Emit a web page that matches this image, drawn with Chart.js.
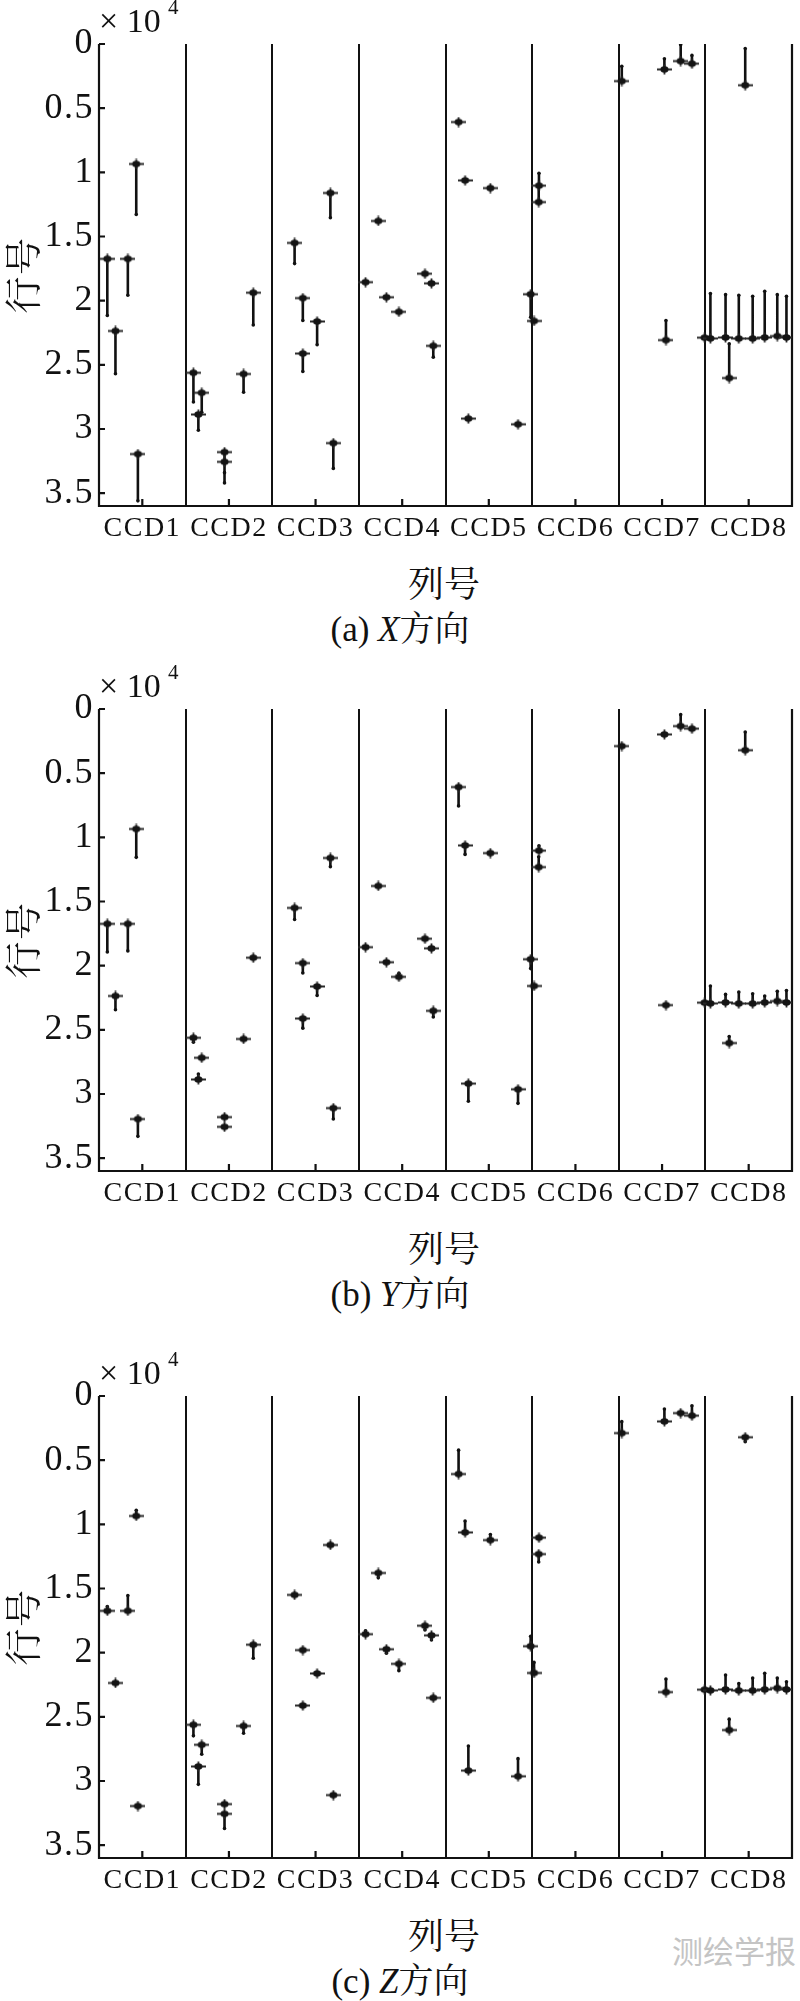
<!DOCTYPE html>
<html>
<head>
<meta charset="utf-8">
<script src="https://cdn.jsdelivr.net/npm/chart.js@4.4.1/dist/chart.umd.min.js"></script>
<style>
  html, body { margin:0; padding:0; background:#fff; }
  #page { position:relative; width:800px; height:2001px; background:#fff; overflow:hidden; }
  canvas { position:absolute; left:0; }
  .t { position:absolute; white-space:nowrap; color:#111; line-height:1; transform:translate(-50%,-50%); }
  .ser { font-family:"Liberation Serif","Times New Roman",serif; }
  .cjk { font-family:"Noto Serif CJK SC","Noto Sans CJK SC",sans-serif; }
  .exp { position:absolute; white-space:nowrap; color:#111; font-family:"Liberation Serif","Times New Roman",serif; line-height:1; }
</style>
</head>
<body>
<div id="page">
  <canvas id="c0" width="800" height="546" style="top:0px"></canvas>
  <canvas id="c1" width="800" height="546" style="top:665px"></canvas>
  <canvas id="c2" width="800" height="546" style="top:1352px"></canvas>
</div>
<script>
// ---------- data ----------
const ccdLabels = ['CCD1','CCD2','CCD3','CCD4','CCD5','CCD6','CCD7','CCD8'];
const ccdCenters = [0.5,1.5,2.5,3.5,4.5,5.5,6.5,7.5];
const ccdBounds = [1,2,3,4,5,6,7];
const rowTicks = [0,0.5,1,1.5,2,2.5,3,3.5];
const rowTickLabels = ['0','0.5','1','1.5','2','2.5','3','3.5'];

// check points: column position (in CCD units) and row number (x10^4)
const ptCol = [0.096,0.19,0.333,0.43,0.449, 1.09,1.186,1.147,1.449,1.449,1.669,1.781,
  2.258,2.353,2.518,2.353,2.671,2.705, 3.077,3.224,3.318,3.462,3.763,3.838,3.859,
  4.151,4.226,4.518,4.264,4.837,4.983,5.022, 5.079,5.076,
  6.035,6.527,6.715,6.845,6.545,
  7.46,6.991,7.058,7.233,7.386,7.546,7.685,7.83,7.936,7.275];
const ptRow = [1.674,2.236,1.674,0.935,3.195, 2.562,2.718,2.887,3.18,3.256,2.571,1.938,
  1.55,1.98,2.162,2.412,1.161,3.11, 1.856,1.379,1.973,2.087,1.79,1.865,2.352,
  0.608,1.063,1.123,2.919,2.963,1.95,2.158, 1.104,1.232,
  0.289,0.198,0.133,0.153,2.307,
  0.321,2.288,2.294,2.287,2.295,2.295,2.287,2.276,2.287,2.603];
// end of the error vector (row units) in each direction; null = no visible vector
const endX = [2.115,2.57,1.958,1.328,3.56, 2.79,2.87,3.01,3.34,3.42,2.713,2.19,
  1.711,2.154,2.344,2.552,1.354,3.307, null,null,null,null,null,null,2.44,
  null,null,null,null,null,2.13,null, 1.008,1.11,
  0.174,0.115,0.005,0.089,2.154,
  0.036,null,1.945,1.953,1.958,1.966,1.927,1.953,1.966,2.336];
const endY = [1.893,2.344,1.885,1.156,3.33, 2.596,null,2.844,null,null,null,null,
  1.64,2.057,2.232,2.487,1.229,3.195, null,null,null,2.06,null,null,2.4,
  0.755,1.133,null,3.057,3.073,2.023,null, 1.065,1.151,
  null,null,0.044,null,null,
  0.18,null,2.159,2.224,2.206,2.219,2.237,2.2,2.193,2.552];
const endZ = [1.64,null,1.555,0.89,null, 2.648,2.792,3.026,null,3.37,2.628,2.044,
  null,null,null,null,null,null, 1.83,1.417,2.005,2.14,1.823,1.901,null,
  0.422,0.974,1.08,2.727,2.826,1.872,2.076, null,1.294,
  0.2,0.102,null,0.076,2.206,
  0.357,null,null,2.174,2.24,2.198,2.161,2.198,2.227,2.518];

const panelEnds = [endX, endY, endZ];
const panelCaps = [['(a) ','X','方向'],['(b) ','Y','方向'],['(c) ','Z','方向']];
const panelTop = [0, 665, 1352];

// ---------- rendering ----------
const SERIF = '"Liberation Serif","Times New Roman",serif';
const CJK = '"Noto Serif CJK SC","Noto Sans CJK SC",sans-serif';

const mk = document.createElement('canvas');
mk.width = 15; mk.height = 11;
(function(){
  const c = mk.getContext('2d');
  c.strokeStyle = '#2a2a2a'; c.lineWidth = 1.8;
  c.beginPath(); c.moveTo(0,5.5); c.lineTo(15,5.5); c.moveTo(7.5,0.5); c.lineTo(7.5,10.5); c.stroke();
  c.fillStyle = '#141414';
  c.beginPath(); c.ellipse(7.5,5.5,4.0,3.2,0,0,Math.PI*2); c.fill();
})();

const spacingPlugin = {
  id: 'spacing',
  beforeDraw(chart) { if ('letterSpacing' in chart.ctx) chart.ctx.letterSpacing = '1.5px'; },
  afterDraw(chart) { if ('letterSpacing' in chart.ctx) chart.ctx.letterSpacing = '0px'; }
};

const framePlugin = {
  id: 'frame',
  beforeDatasetsDraw(chart) {
    const {ctx, chartArea:a, scales:{x, y}} = chart;
    ctx.save();
    ctx.strokeStyle = '#111';
    ctx.lineWidth = 2.2;
    ctx.beginPath();
    ctx.moveTo(a.left, a.top); ctx.lineTo(a.left, a.bottom); ctx.lineTo(a.right, a.bottom); ctx.lineTo(a.right, a.top);
    ctx.stroke();
    ctx.lineWidth = 2;
    ctx.beginPath();
    ccdBounds.forEach(v => { const px = Math.round(x.getPixelForValue(v)); ctx.moveTo(px, a.top); ctx.lineTo(px, a.bottom); });
    ctx.stroke();
    ctx.lineWidth = 2.2;
    ctx.beginPath();
    rowTicks.forEach(v => { const py = y.getPixelForValue(v); ctx.moveTo(a.left, py); ctx.lineTo(a.left + 6, py); });
    ccdCenters.forEach(v => { const px = x.getPixelForValue(v); ctx.moveTo(px, a.bottom); ctx.lineTo(px, a.bottom - 7); });
    ctx.stroke();
    ctx.restore();
  }
};

function makeChart(k) {
  const ends = panelEnds[k];
  const markers = ptCol.map((c, i) => ({x: c, y: ptRow[i]}));
  const vecs = [];
  ptCol.forEach((c, i) => {
    if (ends[i] !== null) vecs.push({x: c, y: ptRow[i]}, {x: c, y: ends[i]}, {x: c, y: null});
  });
  new Chart(document.getElementById('c' + k), {
    type: 'scatter',
    data: { datasets: [
      { type: 'line', data: vecs, borderColor: '#111', borderWidth: 2.6, spanGaps: false, fill: false, tension: 0,
        pointRadius: ctx => (ctx.dataIndex % 3 === 1 ? 1.8 : 0), pointBackgroundColor: '#111', pointBorderWidth: 0, order: 2 },
      { type: 'scatter', data: markers, pointStyle: mk, pointRadius: 6, order: 1 }
    ]},
    options: {
      responsive: false, animation: false, devicePixelRatio: 1,
      layout: { padding: { top: 44, right: 8, left: 0, bottom: 0 } },
      plugins: { legend: { display: false }, tooltip: { enabled: false } },
      scales: {
        x: { type: 'linear', min: 0, max: 8,
          grid: { display: false, drawTicks: false }, border: { display: false },
          afterBuildTicks: s => { s.ticks = ccdCenters.map(v => ({value: v})); },
          afterFit: s => { s.height = 40; },
          ticks: { callback: (v, i) => ccdLabels[i], autoSkip: false, maxRotation: 0, padding: 6,
                   color: '#111', font: { family: SERIF, size: 28 } } },
        y: { type: 'linear', reverse: true, min: 0, max: 3.6,
          grid: { display: false, drawTicks: false }, border: { display: false },
          afterBuildTicks: s => { s.ticks = rowTicks.map(v => ({value: v})); },
          afterFit: s => { s.width = 99; },
          ticks: { callback: (v, i) => rowTickLabels[i], autoSkip: false, padding: 5,
                   color: '#111', font: { family: SERIF, size: 36 } },
          title: { display: true, text: '行号', color: '#111', padding: { top: 1, bottom: 0 },
                   font: { family: CJK, size: 37 } } }
      }
    },
    plugins: [spacingPlugin, framePlugin]
  });
}

const page = document.getElementById('page');
function addText(html, cls, left, top, extra) {
  const d = document.createElement('div');
  d.className = cls;
  d.style.left = left + 'px'; d.style.top = top + 'px';
  if (extra) Object.assign(d.style, extra);
  d.innerHTML = html;
  page.appendChild(d);
}

for (let k = 0; k < 3; k++) {
  makeChart(k);
  const T = panelTop[k];
  // exponent label
  addText('×&nbsp;10', 'exp', 99, T + 4, { fontSize: '34px' });
  addText('4', 'exp', 168, T - 3, { fontSize: '21px' });
  // x axis title
  addText('列号', 't cjk', 444, T + 582, { fontSize: '36px' });
  // caption
  const cap = panelCaps[k];
  addText('<span class="ser">' + cap[0] + '</span><span class="ser" style="font-style:italic">' + cap[1] +
          '</span><span class="cjk">' + cap[2] + '</span>', 't', 400, T + 628, { fontSize: '35px' });
}
addText('测绘学报', 't', 734, 1949, { fontSize: '31px', color: '#c4c4c4', fontFamily: '"Noto Sans CJK SC",sans-serif' });
</script>
</body>
</html>
